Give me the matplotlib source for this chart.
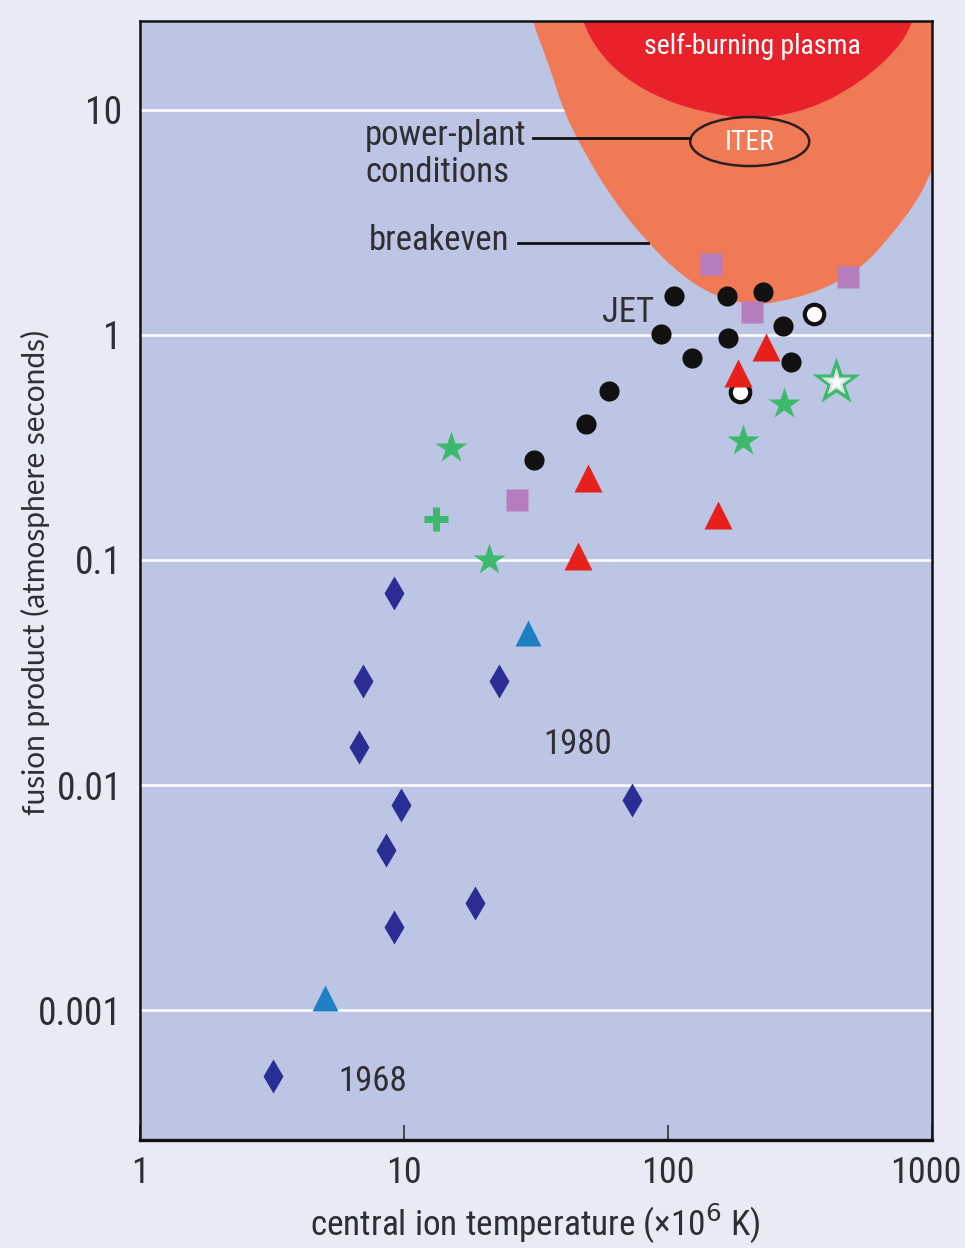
import os
import numpy as np
import matplotlib
matplotlib.use("Agg")
import matplotlib.pyplot as plt
import matplotlib.transforms as mtransforms
from matplotlib import font_manager
from matplotlib.font_manager import FontProperties
from matplotlib.patches import PathPatch, Ellipse
from matplotlib.path import Path

# -------------------------------------
# Data
# -------------------------------------

# early devices (dark blue diamonds)
diamond_T = [3.19, 9.16, 8.55, 9.74, 18.6, 73.1, 6.76, 7.0, 22.9, 9.16]
diamond_F = [5.1e-4, 2.34e-3, 5.14e-3, 8.15e-3, 2.99e-3, 8.58e-3, 0.0148, 0.029, 0.029, 0.0713]

# light blue triangles
btri_T = [5.02, 29.5]
btri_F = [1.13e-3, 0.0474]

# red triangles
rtri_T = [45.6, 49.8, 154.7, 184, 235]
rtri_F = [0.104, 0.231, 0.158, 0.678, 0.885]

# JET (black circles)
jet_T = [31.1, 48.9, 59.8, 94.1, 123, 105, 167, 169, 229, 273, 292]
jet_F = [0.278, 0.402, 0.564, 1.01, 0.79, 1.49, 1.49, 0.97, 1.55, 1.10, 0.759]

# open circles
open_T = [357, 187]
open_F = [1.24, 0.558]

# purple squares
sq_T = [26.8, 145.5, 208, 481]
sq_F = [0.185, 2.07, 1.26, 1.81]

# green stars
star_T = [15.1, 21.0, 192, 275]
star_F = [0.315, 0.1, 0.338, 0.493]
bigstar_T = [433]
bigstar_F = [0.618]

# green plus
plus_T = [13.2]
plus_F = [0.152]

# breakeven region outline (orange), left to right, ends lie outside the axes
orange_T = [28.7, 30.5, 35.7, 40.0, 47.6, 61.9, 84.0, 114, 153, 204, 266, 386, 548, 712, 885, 1000, 1170]
orange_F = [34.1, 24.9, 15.5, 10.0, 6.64, 3.98, 2.56, 1.81, 1.475, 1.36, 1.40, 1.585, 2.005, 2.84, 3.98, 5.41, 8.15]

# self-burning plasma region outline (red)
red_T = [44.8, 47.2, 53.8, 67.5, 95.7, 140, 210, 345, 534, 737, 847, 885]
red_F = [32.4, 24.9, 18.5, 14.0, 11.1, 9.70, 9.03, 10.0, 13.2, 18.5, 24.4, 32.4]

xticks = [1, 10, 100, 1000]
xtick_labels = ["1", "10", "100", "1000"]
yticks = [0.001, 0.01, 0.1, 1, 10]
ytick_labels = ["0.001", "0.01", "0.1", "1", "10"]


# -------------------------------------
# Fonts
# -------------------------------------
def pick_font(patterns):
    files = [f.fname for f in font_manager.fontManager.ttflist]
    for pat in patterns:
        for fn in files:
            if os.path.basename(fn).lower().startswith(pat.lower()):
                return fn
    return None


narrow_file = pick_font(["LiberationSansNarrow-Regular", "RobotoCondensed-Regular",
                         "NotoSans-Condensed.", "NotoSans-CondensedRegular",
                         "OpenSans_Condensed-Regular", "OpenSans-CondensedRegular",
                         "DejaVuSansCondensed.", "NotoSans-SemiCondensed.",
                         "OpenSans_SemiCondensed-Regular"])
if narrow_file is None:
    NARROW = FontProperties(family="Liberation Sans")
    K = 0.84
else:
    NARROW = FontProperties(fname=narrow_file)
    K = 1.0
WIDE = FontProperties(family=["Lato", "Liberation Sans", "DejaVu Sans"])


def fp(size, base=None):
    p = (base or NARROW).copy()
    p.set_size(size * K)
    return p


def smooth_path(xs, ys, close_y):
    """Quadratic spline through the midpoints of the read outline, closed above the axes."""
    pts = list(zip(xs, ys))
    verts = [pts[0]]
    codes = [Path.MOVETO]
    for i in range(1, len(pts) - 1):
        mid = ((pts[i][0] * pts[i + 1][0]) ** 0.5, (pts[i][1] * pts[i + 1][1]) ** 0.5)
        verts += [pts[i], mid]
        codes += [Path.CURVE3, Path.CURVE3]
    verts += [pts[-1], (pts[-1][0], close_y), (pts[0][0], close_y), pts[0]]
    codes += [Path.LINETO, Path.LINETO, Path.LINETO, Path.CLOSEPOLY]
    return Path(verts, codes)


TXT = "#2e2e33"
BG_OUT = "#e8ebf6"
BG_IN = "#bdc5e4"
ORANGE = "#f07a55"
RED = "#e8212a"
GREEN = "#3cb96c"

fig = plt.figure(figsize=(9.65, 12.48), dpi=100, facecolor=BG_OUT)
ax = fig.add_axes([140 / 965, 108 / 1248, 792 / 965, 1119 / 1248])
ax.set_facecolor(BG_IN)
ax.set_xscale("log")
ax.set_yscale("log")
ax.set_xlim(1, 1000)
ax.set_ylim(2.644e-4, 24.86)

for yv in yticks:
    ax.axhline(yv, color="white", lw=1.8, zorder=0.5)

# regions
ax.add_patch(PathPatch(smooth_path(orange_T, orange_F, 1000), facecolor=ORANGE,
                       edgecolor="none", zorder=1))
ax.add_patch(PathPatch(smooth_path(red_T, red_F, 1000), facecolor=RED,
                       edgecolor="none", zorder=1.1))

# ITER ellipse (drawn in axes fraction so it keeps its pixel shape)
cx, cy = ax.transAxes.inverted().transform(ax.transData.transform((204, 7.24)))
ax.add_patch(Ellipse((cx, cy), 119 / 792, 49 / 1119, transform=ax.transAxes,
                     facecolor="none", edgecolor="#2a2020", lw=1.8, zorder=2))

ax.text(208, 19.2, "self-burning plasma", color="white", fontproperties=fp(20),
        ha="center", va="center", zorder=3)
ax.text(204, 7.2, "ITER", color="white", fontproperties=fp(20),
        ha="center", va="center", zorder=3)

# leader lines
ax.plot([30.8, 121], [7.51, 7.51], color="#111111", lw=2, zorder=2)
ax.plot([27.0, 84.0], [2.57, 2.57], color="#111111", lw=2, zorder=2)

ax.text(7.11, 6.35, "power-plant\nconditions", color=TXT, fontproperties=fp(25),
        ha="left", va="center", linespacing=1.15)
ax.text(7.33, 2.62, "breakeven", color=TXT, fontproperties=fp(25),
        ha="left", va="center")
ax.text(70.5, 1.26, "JET", color=TXT, fontproperties=fp(25),
        ha="center", va="center")
ax.text(45.6, 0.0151, "1980", color=TXT, fontproperties=fp(25),
        ha="center", va="center")
ax.text(7.63, 4.79e-4, "1968", color=TXT, fontproperties=fp(25),
        ha="center", va="center")

# markers
ax.plot(diamond_T, diamond_F, "d", ms=17, color="#2a2d93", mec="none", zorder=4)
ax.plot(btri_T, btri_F, "^", ms=19, color="#1e7fc2", mec="none", zorder=4)
ax.plot(jet_T, jet_F, "o", ms=14.5, color="#111111", mec="none", zorder=4)
ax.plot(open_T, open_F, "o", ms=14, mfc="white", mec="#111111", mew=3, zorder=4)
ax.plot(rtri_T, rtri_F, "^", ms=19.5, color="#e8201c", mec="none", zorder=5)
ax.plot(sq_T, sq_F, "s", ms=16, color="#b57cc0", mec="none", zorder=4)
ax.plot(star_T, star_F, "*", ms=24, color=GREEN, mec="none", zorder=4)
ax.plot(bigstar_T, bigstar_F, "*", ms=36, color=GREEN, mec="none", zorder=4)
ax.plot(bigstar_T, bigstar_F, "*", ms=22, color="#d8e6e6", mec="none", zorder=4)
ax.plot(bigstar_T, bigstar_F, "*", ms=12, color="white", mec="none", zorder=4)
ax.plot(plus_T, plus_F, "+", ms=17, color=GREEN, mew=5, zorder=4)

# axes
for s in ax.spines.values():
    s.set_color("#111111")
    s.set_linewidth(1.8)
ax.spines["bottom"].set_linewidth(2.4)

ax.set_xticks(xticks)
ax.set_xticklabels(xtick_labels)
ax.set_yticks(yticks)
ax.set_yticklabels(ytick_labels)
ax.minorticks_off()
ax.tick_params(axis="x", direction="in", length=11, width=1.2, color="#333333",
               pad=11, labelcolor=TXT)
ax.tick_params(axis="y", length=0, pad=13, labelcolor=TXT)
for lab in ax.get_xticklabels():
    lab.set_fontproperties(fp(26))
for lab in ax.get_yticklabels():
    lab.set_fontproperties(fp(27))
# keep the last x label inside the figure edge
last = ax.get_xticklabels()[-1]
last.set_transform(last.get_transform() +
                   mtransforms.ScaledTranslation(-6 / 100, 0, fig.dpi_scale_trans))

ax.set_xlabel("central ion temperature (\u00d710$^{6}$ K)", fontproperties=fp(25.4),
              color=TXT)
ax.xaxis.set_label_coords(0.499, -0.055)
ax.set_ylabel("fusion product (atmosphere seconds)", fontproperties=fp(21.5, WIDE),
              color=TXT)
ax.yaxis.set_label_coords(-0.114, 0.507)

fig.savefig("out.png", dpi=100, facecolor=BG_OUT)
